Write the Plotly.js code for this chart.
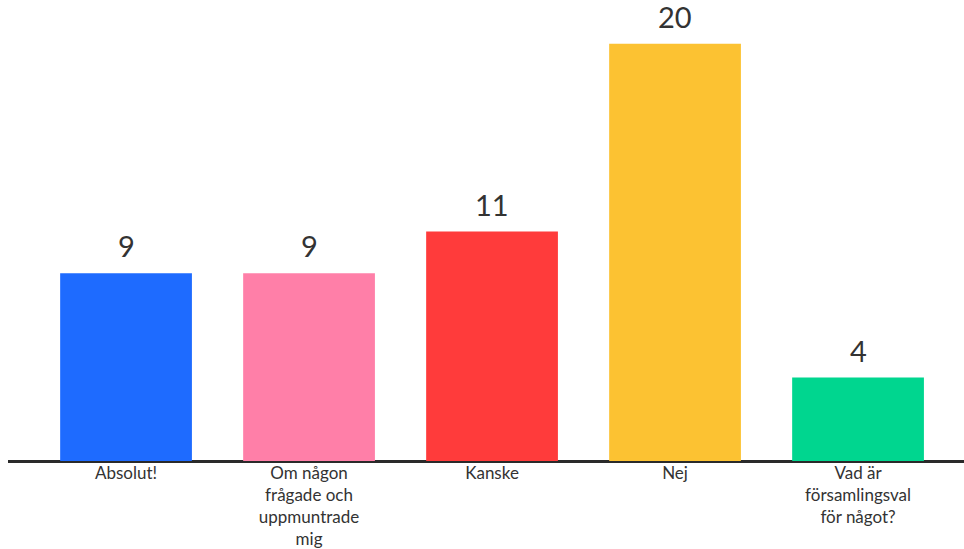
<!DOCTYPE html>
<html>
<head>
<meta charset="utf-8">
<script src="https://cdn.plot.ly/plotly-3.0.1.min.js"></script>
<style>html,body{margin:0;padding:0;background:#fff;}#chart{width:964px;height:549px;}</style>
</head>
<body>
<div id="chart"></div>
<script>
const categories = ["Absolut!", "Om någon<br>frågade och<br>uppmuntrade<br>mig", "Kanske", "Nej", "Vad är<br>församlingsval<br>för något?"];
const values = [9, 9, 11, 20, 4];
const colors = ["#1E6BFF", "#FF7FA8", "#FF3B3B", "#FCC232", "#00D68F"];

const trace = {
  type: "bar",
  x: categories,
  y: values,
  marker: {color: colors},
  width: 0.72,
  hoverinfo: "none"
};

const annotations = categories.map((c, i) => ({
  x: c, y: values[i], xref: "x", yref: "y",
  text: String(values[i]), showarrow: false,
  yanchor: "bottom", yshift: 8,
  font: {family: "Lato, 'Open Sans', sans-serif", size: 29, color: "#333"}
}));

const layout = {
  width: 964, height: 549,
  margin: {l: 8, r: 0, t: 0, b: 88},
  paper_bgcolor: "#fff", plot_bgcolor: "#fff",
  showlegend: false,
  xaxis: {
    type: "category",
    range: [-0.645, 4.579],
    showgrid: false, zeroline: false, showline: false,
    ticks: "", ticklen: 0,
    tickfont: {family: "Lato, 'Open Sans', sans-serif", size: 17, color: "#333"},
    fixedrange: true
  },
  yaxis: {
    range: [0, 22.1],
    showgrid: false, showticklabels: false, ticks: "",
    zeroline: true, zerolinecolor: "#2a2a2a", zerolinewidth: 3,
    showline: false, fixedrange: true
  },
  annotations: annotations
};

Plotly.newPlot("chart", [trace], layout, {displayModeBar: false, staticPlot: true});
</script>
</body>
</html>
